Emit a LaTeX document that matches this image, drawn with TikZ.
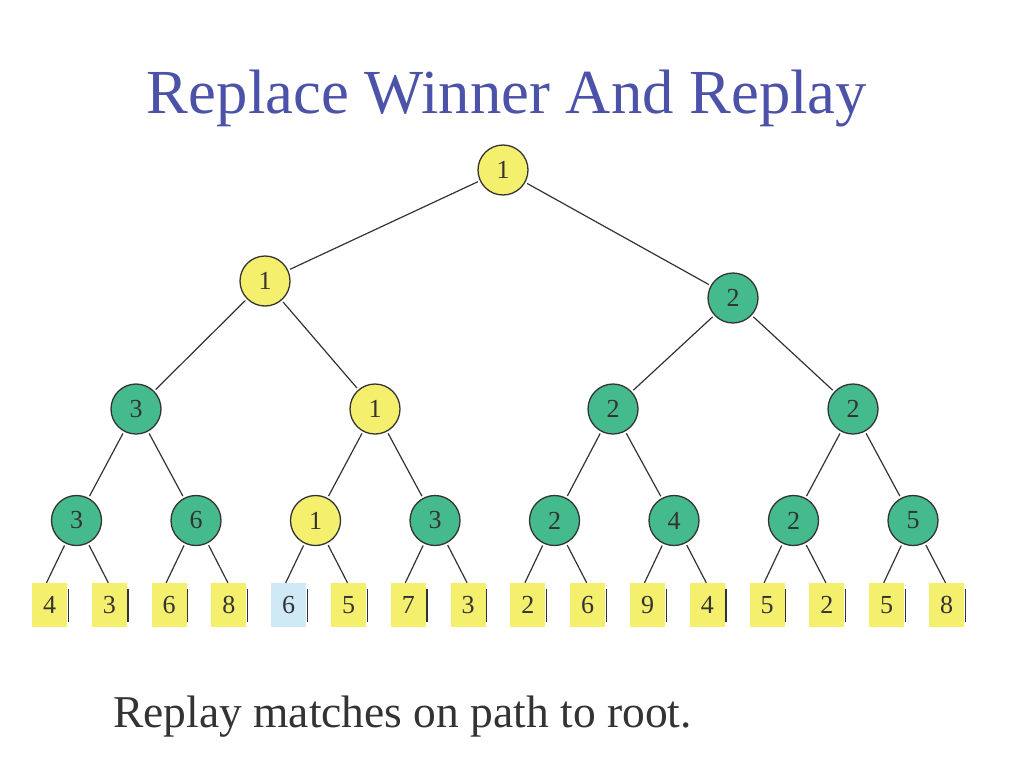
\documentclass[tikz,border=0pt]{standalone}
\usepackage{fontspec}
\setmainfont{Liberation Serif}
\definecolor{titleblue}{HTML}{4B52A8}
\definecolor{nodeyellow}{HTML}{F5EF6E}
\definecolor{nodegreen}{HTML}{45BA8C}
\definecolor{leafblue}{HTML}{CFE9F7}
\definecolor{ink}{HTML}{333333}
\begin{document}
\begin{tikzpicture}[x=1pt,y=-1pt,
  nd/.style={circle,draw=ink,line width=1.3pt,minimum size=50pt,inner sep=0pt,text=ink,font=\fontsize{26}{26}\selectfont},
  win/.style={nd,fill=nodeyellow},
  los/.style={nd,fill=nodegreen},
  leaf/.style={rectangle,fill=nodeyellow,minimum width=35pt,minimum height=44pt,inner sep=0pt,text=ink,font=\fontsize{26}{26}\selectfont},
  leafb/.style={leaf,fill=leafblue},
  edge/.style={draw=ink,line width=1.2pt,shorten <=2pt,shorten >=2pt},
  bar/.style={draw=ink,line width=1.1pt}]
\useasboundingbox (0,0) rectangle (1024,768);
\node[text=titleblue,font=\fontsize{62.7}{62.7}\selectfont,anchor=base] (title) at (507,113) {Replace Winner And Replay};
\node[text=ink,font=\fontsize{45.5}{45.5}\selectfont,anchor=base west,inner sep=0pt] (caption) at (113,727) {Replay matches on path to root.};
% root
\node[win] (r) at (503,170) {1};
% level 2
\node[win] (a1) at (265,281) {1};
\node[los] (a2) at (733,298) {2};
% level 3
\node[los] (b1) at (136,409) {3};
\node[win] (b2) at (375,409) {1};
\node[los] (b3) at (613,409) {2};
\node[los] (b4) at (853,409) {2};
% level 4
\node[los] (c1) at (76.5,520.5) {3};
\node[los] (c2) at (196,520.5) {6};
\node[win] (c3) at (315.5,520.5) {1};
\node[los] (c4) at (435,520.5) {3};
\node[los] (c5) at (554.5,520.5) {2};
\node[los] (c6) at (674,520.5) {4};
\node[los] (c7) at (793.5,520.5) {2};
\node[los] (c8) at (913,520.5) {5};
% leaves
\foreach \i/\v/\s in {1/4/leaf,2/3/leaf,3/6/leaf,4/8/leaf,5/6/leafb,6/5/leaf,7/7/leaf,8/3/leaf,9/2/leaf,10/6/leaf,11/9/leaf,12/4/leaf,13/5/leaf,14/2/leaf,15/5/leaf,16/8/leaf}{
  \node[\s] (l\i) at ({49.5+59.8*(\i-1)},605) {\v};
  \draw[bar] ([xshift=1pt,yshift=16.5pt]l\i.east) -- ([xshift=1pt,yshift=-16.5pt]l\i.east);
}
% edges
\draw[edge] (r) -- (a1);
\draw[edge] (r) -- (a2);
\draw[edge] (a1) -- (b1);
\draw[edge] (a1) -- (b2);
\draw[edge] (a2) -- (b3);
\draw[edge] (a2) -- (b4);
\draw[edge] (b1) -- (c1);
\draw[edge] (b1) -- (c2);
\draw[edge] (b2) -- (c3);
\draw[edge] (b2) -- (c4);
\draw[edge] (b3) -- (c5);
\draw[edge] (b3) -- (c6);
\draw[edge] (b4) -- (c7);
\draw[edge] (b4) -- (c8);
\foreach \c/\x/\y in {c1/1/2,c2/3/4,c3/5/6,c4/7/8,c5/9/10,c6/11/12,c7/13/14,c8/15/16}{
  \draw[edge,shorten >=0pt] (\c) -- ([xshift=-3pt]l\x.north);
  \draw[edge,shorten >=0pt] (\c) -- ([xshift=-1pt]l\y.north);
}
\end{tikzpicture}
\end{document}
